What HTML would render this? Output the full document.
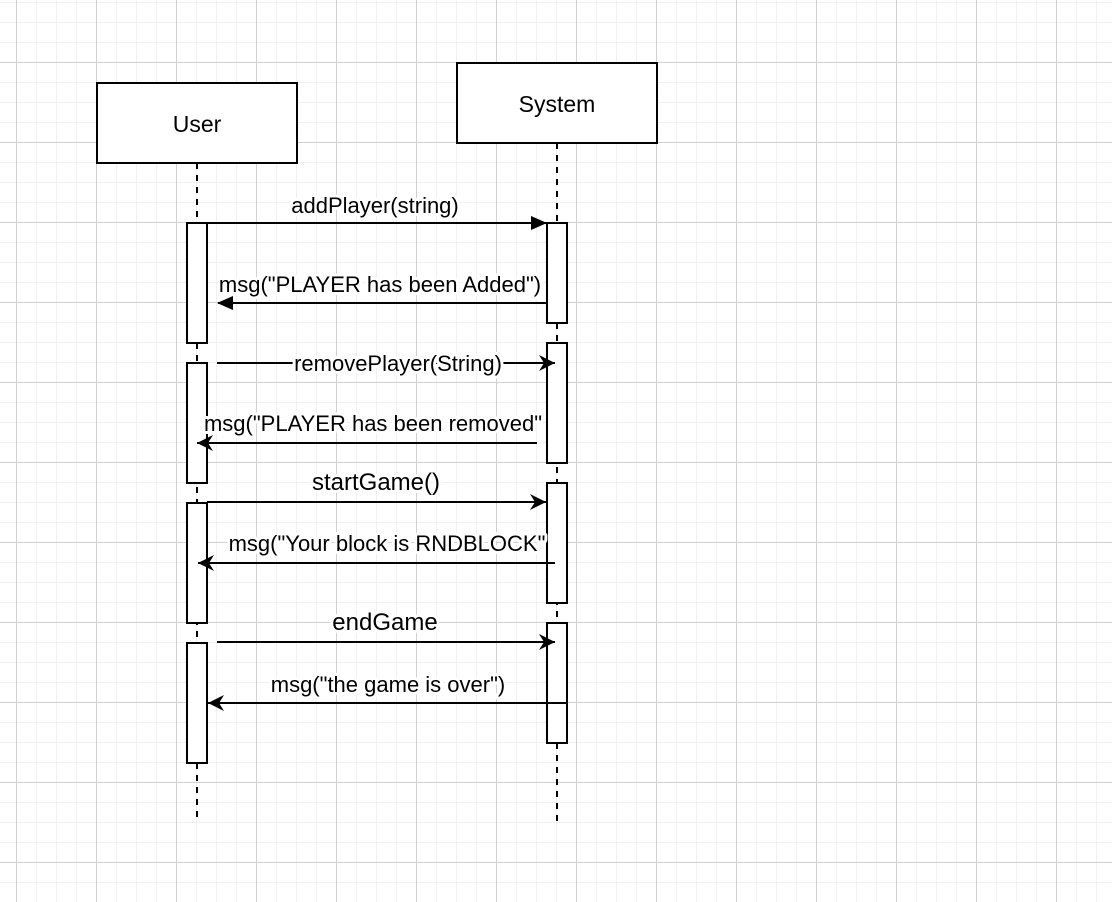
<!DOCTYPE html>
<html><head><meta charset="utf-8"><style>
html,body{margin:0;padding:0;background:#fff;}
svg{display:block;}
text{font-family:"Liberation Sans",Arial,sans-serif;fill:#000;}
.lab{paint-order:stroke;stroke:#fff;stroke-width:6px;stroke-linejoin:round;}
</style></head><body>
<svg width="1112" height="902" viewBox="0 0 1112 902" xmlns="http://www.w3.org/2000/svg">
<defs>
<pattern id="minor" x="16" y="2" width="20" height="20" patternUnits="userSpaceOnUse">
<path d="M0 0.5H20M0.5 0V20" stroke="#f0f0f0" stroke-width="1" fill="none"/>
</pattern>
<pattern id="major" x="16" y="62" width="80" height="80" patternUnits="userSpaceOnUse">
<path d="M0 0.5H80M0.5 0V80" stroke="#d0d0d0" stroke-width="1" fill="none"/>
</pattern>
<marker id="blk" markerWidth="16" markerHeight="16" refX="15" refY="8" orient="auto" markerUnits="userSpaceOnUse">
<path d="M0 1L16 8L0 15Z" fill="#000"/>
</marker>
<marker id="cls" markerWidth="18" markerHeight="18" refX="16" refY="9" orient="auto" markerUnits="userSpaceOnUse">
<path d="M0 1L16 9L0 17L5 9Z" fill="#000"/>
</marker>
</defs>
<rect width="1112" height="902" fill="url(#minor)"/>
<rect width="1112" height="902" fill="url(#major)"/>

<g stroke="#000" stroke-width="2" fill="#fff">
<line x1="197" y1="163" x2="197" y2="817" stroke-dasharray="6,6"/>
<line x1="557" y1="143" x2="557" y2="821" stroke-dasharray="6,6"/>
<rect x="97" y="83" width="200" height="80"/>
<rect x="457" y="63" width="200" height="80"/>
<rect x="187" y="223" width="20" height="120"/>
<rect x="187" y="363" width="20" height="120"/>
<rect x="187" y="503" width="20" height="120"/>
<rect x="187" y="643" width="20" height="120"/>
<rect x="547" y="223" width="20" height="100"/>
<rect x="547" y="343" width="20" height="120"/>
<rect x="547" y="483" width="20" height="120"/>
<rect x="547" y="623" width="20" height="120"/>
</g>
<text x="197" y="132" font-size="23" text-anchor="middle">User</text>
<text x="557" y="112" font-size="23" text-anchor="middle">System</text>

<g stroke="#000" stroke-width="2" fill="none">
<line x1="207" y1="223" x2="546" y2="223" marker-end="url(#blk)"/>
<line x1="547" y1="303" x2="218" y2="303" marker-end="url(#blk)"/>
<line x1="217" y1="363" x2="555" y2="363" marker-end="url(#cls)"/>
<line x1="537" y1="443" x2="197" y2="443" marker-end="url(#cls)"/>
<line x1="207" y1="502" x2="546" y2="502" marker-end="url(#cls)"/>
<line x1="555" y1="563" x2="198" y2="563" marker-end="url(#cls)"/>
<line x1="217" y1="642" x2="555" y2="642" marker-end="url(#cls)"/>
<line x1="567" y1="703" x2="208" y2="703" marker-end="url(#cls)"/>
</g>
<g font-size="22" text-anchor="middle">
<text class="lab" x="375" y="213">addPlayer(string)</text>
<text class="lab" x="380" y="292">msg("PLAYER has been Added")</text>
<text class="lab" x="398" y="371">removePlayer(String)</text>
<text class="lab" x="373" y="431">msg("PLAYER has been removed"</text>
<text class="lab" x="376" y="490" font-size="24">startGame()</text>
<text class="lab" x="387" y="551">msg("Your block is RNDBLOCK"</text>
<text class="lab" x="385" y="630" font-size="24">endGame</text>
<text class="lab" x="388" y="692">msg("the game is over")</text>
</g>
</svg>
</body></html>
